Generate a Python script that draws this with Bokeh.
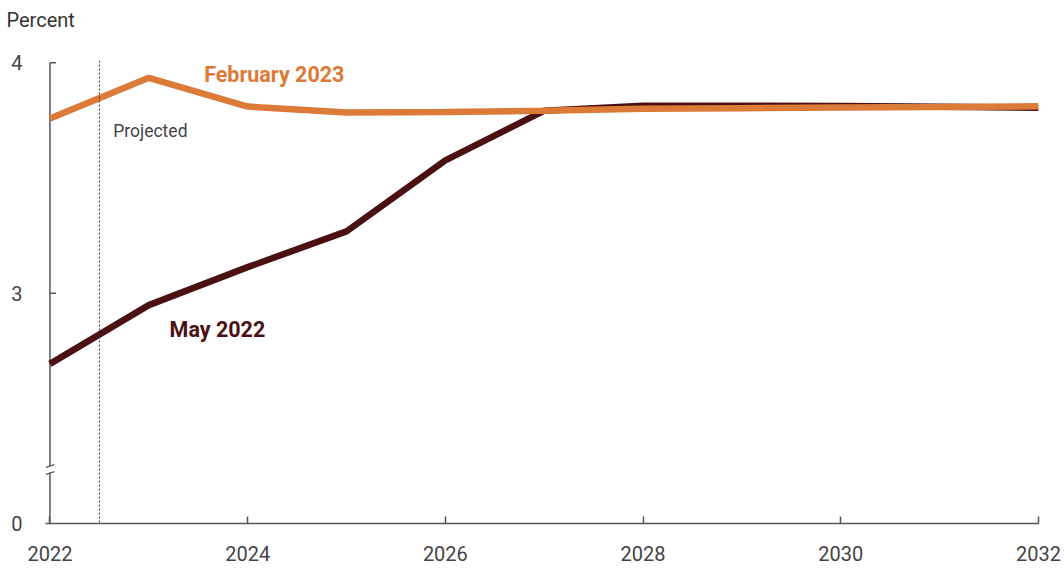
from bokeh.plotting import figure
from bokeh.models import Range1d, FixedTicker, Span, Label
from bokeh.embed import file_html
from bokeh.resources import INLINE

years = [2022, 2023, 2024, 2025, 2026, 2027, 2028, 2029, 2030, 2031, 2032]
may_2022 = [2.693, 2.948, 3.113, 3.268, 3.576, 3.792, 3.814, 3.814, 3.812, 3.809, 3.805]
feb_2023 = [3.758, 3.935, 3.810, 3.784, 3.786, 3.792, 3.800, 3.803, 3.806, 3.808, 3.811]
x_ticks = [2022, 2024, 2026, 2028, 2030, 2032]
y_ticks = [2, 3, 4]
y_tick_labels = {2: "0", 3: "3", 4: "4"}
projection_start = 2022.5

ORANGE = "#DC7A38"
DARK = "#4A1012"
AXIS = "#555555"
TXT = "#444444"
FONT = "Roboto"

x0 = years[0]
brk_lo, brk_hi = 2.219, 2.250   # axis-break position (scale-break marks)

p = figure(width=1062, height=568, output_backend="svg", toolbar_location=None,
           x_range=Range1d(x0 - 0.045, years[-1]), y_range=Range1d(y_ticks[0], y_ticks[-1] + 0.01),
           min_border_left=45, min_border_right=24, min_border_top=60, min_border_bottom=45)
p.outline_line_color = None
p.grid.grid_line_color = None
p.background_fill_color = "white"
p.border_fill_color = "white"

for ax in (p.xaxis[0], p.yaxis[0]):
    ax.axis_line_color = AXIS
    ax.axis_line_width = 1.5
    ax.major_tick_line_color = AXIS
    ax.major_tick_line_width = 1.5
    ax.major_tick_out = 0
    ax.minor_tick_line_color = None
    ax.major_label_text_font = FONT
    ax.major_label_text_font_size = "20px"
    ax.major_label_text_color = TXT

p.xaxis.ticker = FixedTicker(ticks=x_ticks)
p.xaxis.major_tick_in = 7
p.xaxis.major_label_standoff = 22
p.yaxis.ticker = FixedTicker(ticks=y_ticks)
p.yaxis.major_label_overrides = y_tick_labels
p.yaxis.axis_line_color = None
p.yaxis.major_tick_line_color = None
p.yaxis.major_label_standoff = 23

# unit label above the y axis (second, empty line lifts it to the top of the border)
p.title.text = "Percent\n"
p.title.text_font = FONT
p.title.text_font_size = "20px"
p.title.text_font_style = "normal"
p.title.text_color = "#333333"
p.title.align = "left"
p.title.offset = -39
p.title.standoff = 10

# y axis line with a scale break, and its inward ticks
p.segment(x0=[x0, x0], y0=[y_ticks[0], brk_hi], x1=[x0, x0], y1=[brk_lo, y_ticks[-1]],
          line_color=AXIS, line_width=1.5)
p.segment(x0=[x0] * 2, y0=y_ticks[1:], x1=[x0 + 0.06] * 2, y1=y_ticks[1:],
          line_color=AXIS, line_width=1.5)
p.segment(x0=[x0 - 0.04] * 2, y0=[brk_lo - 0.006, brk_hi - 0.006],
          x1=[x0 + 0.045] * 2, y1=[brk_lo + 0.006, brk_hi + 0.006],
          line_color=AXIS, line_width=1.3)

p.add_layout(Span(location=projection_start, dimension="height", line_color="#333333",
                  line_width=1, line_dash="2 2"))

p.line(years, may_2022, line_color=DARK, line_width=6.5)
p.line(years, feb_2023, line_color=ORANGE, line_width=6.5)

p.add_layout(Label(x=2022.64, y=3.706, text="Projected", text_font=FONT, text_font_size="17.5px",
                   text_color=TXT, text_baseline="middle"))
p.add_layout(Label(x=2023.56, y=3.948, text="February 2023", text_font=FONT, text_font_size="21.5px",
                   text_font_style="bold", text_color=ORANGE, text_baseline="middle"))
p.add_layout(Label(x=2023.21, y=2.844, text="May 2022", text_font=FONT, text_font_size="21.5px",
                   text_font_style="bold", text_color=DARK, text_baseline="middle"))

open("out.html", "w").write(file_html(p, INLINE))
